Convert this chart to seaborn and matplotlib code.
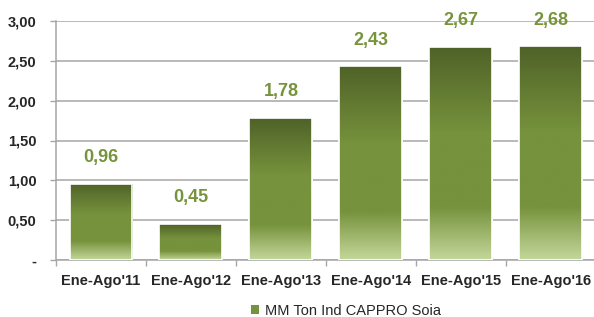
import matplotlib
matplotlib.use("Agg")
import matplotlib.pyplot as plt
import numpy as np
import pandas as pd
import seaborn as sns
from matplotlib.colors import LinearSegmentedColormap
from matplotlib.patches import Patch

periods = ["Ene-Ago'11", "Ene-Ago'12", "Ene-Ago'13", "Ene-Ago'14", "Ene-Ago'15", "Ene-Ago'16"]
tons = [0.96, 0.45, 1.78, 2.43, 2.67, 2.68]
y_ticks = [0.0, 0.5, 1.0, 1.5, 2.0, 2.5, 3.0]
y_labels = ["-", "0,50", "1,00", "1,50", "2,00", "2,50", "3,00"]
series_name = "MM Ton Ind CAPPRO Soia"

GREEN = "#76923C"
LABEL_GREEN = "#77933C"
GRID = "#A6A6A6"

sns.set_theme(style="white")
plt.rcParams["font.family"] = ["Liberation Sans", "DejaVu Sans"]

df = pd.DataFrame({"period": periods, "tons": tons})

fig = plt.figure(figsize=(5.94, 3.17), dpi=100)
ax = fig.add_axes([56 / 594, 57 / 317, 540 / 594, 239 / 317])

sns.barplot(data=df, x="period", y="tons", color=GREEN, width=0.7,
            edgecolor="white", linewidth=1.2, saturation=1, ax=ax, zorder=3)

# vertical gradient per bar (dark top -> green -> pale bottom)
grad = LinearSegmentedColormap.from_list(
    "bar", [(0.0, "#C4D79B"), (0.25, "#76923C"), (0.6, "#76923C"), (1.0, "#4F6228")])
col = np.linspace(0, 1, 256).reshape(-1, 1)
for p in ax.patches:
    x0, y0 = p.get_x(), p.get_y()
    w, h = p.get_width(), p.get_height()
    im = ax.imshow(col, cmap=grad, aspect="auto", origin="lower",
                   extent=[x0, x0 + w, y0, y0 + h], zorder=3.5)
    im.set_clip_path(p)
    ax.add_patch(plt.Rectangle((x0, y0), w, h, fill=False, edgecolor="white",
                               linewidth=1.2, zorder=4))

for i, v in enumerate(tons):
    ax.text(i, v + 0.33, f"{v:.2f}".replace(".", ","), ha="center", va="center",
            color=LABEL_GREEN, fontsize=13, fontweight="bold", zorder=5)

ax.set_ylim(0, 3.0)
ax.set_xlim(-0.5, 5.5)
ax.set_yticks(y_ticks)
ax.set_yticklabels(y_labels, fontsize=10.5, fontweight="bold")
ax.yaxis.grid(True, color=GRID, linewidth=1.1, zorder=0)
ax.set_axisbelow(True)
ax.tick_params(axis="y", length=4, color=GRID, width=1, pad=10, left=True)
ax.set_xticks(range(len(periods)))
ax.set_xticklabels(periods, fontsize=10.5, fontweight="bold")
ax.tick_params(axis="x", length=0, pad=10)
ax.set_xticks(np.arange(-0.5, 6.0, 1.0), minor=True)
ax.tick_params(axis="x", which="minor", length=4, color=GRID, width=1, bottom=True)
ax.set_xlabel("")
ax.set_ylabel("")

for s in ["top", "right"]:
    ax.spines[s].set_visible(False)
for s in ["left", "bottom"]:
    ax.spines[s].set_color(GRID)
    ax.spines[s].set_linewidth(1.1)

handle = Patch(facecolor=GREEN, edgecolor="none")
fig.legend([handle], [series_name], loc="center", bbox_to_anchor=(346 / 594, 6 / 317),
           frameon=False, fontsize=10.5, handlelength=0.6, handleheight=0.6,
           handletextpad=0.4, borderpad=0)

fig.savefig("out.png", dpi=100)
